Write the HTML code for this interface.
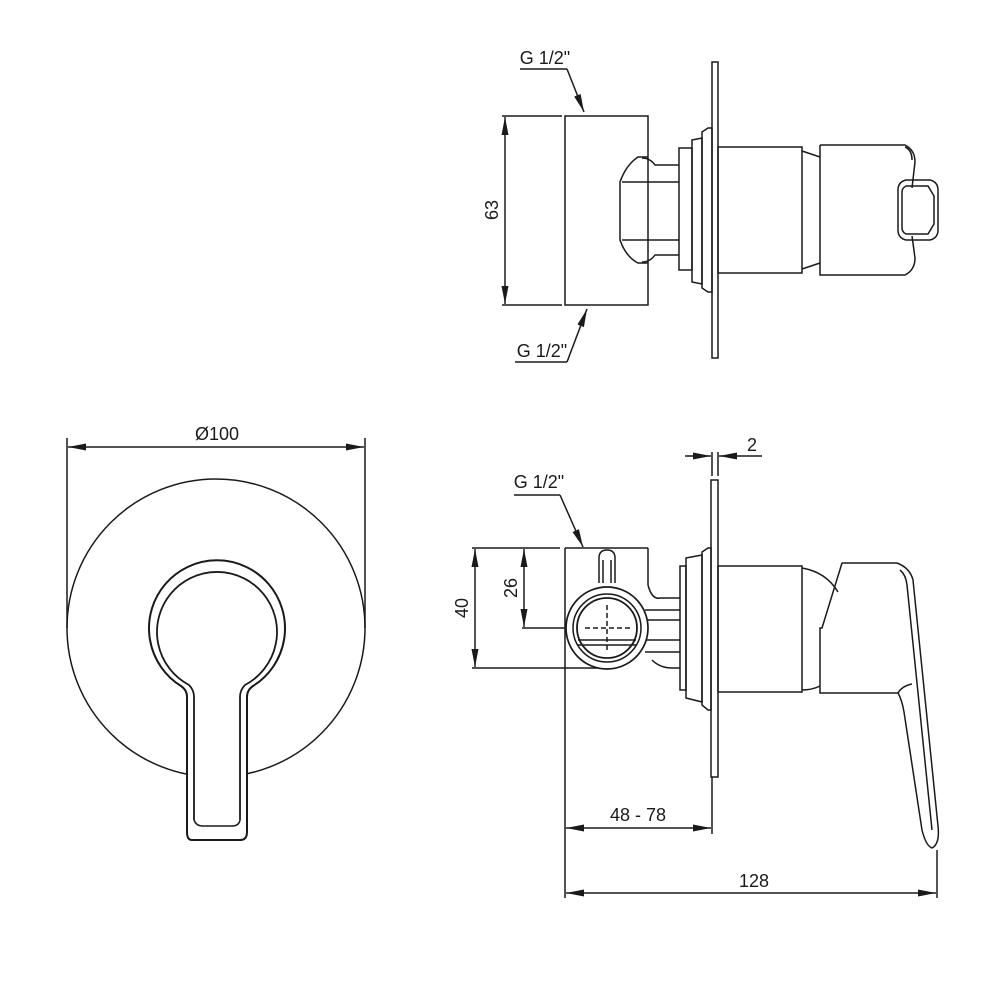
<!DOCTYPE html>
<html><head><meta charset="utf-8"><style>
html,body{margin:0;padding:0;background:#fff}
svg{display:block}
text{font-family:"Liberation Sans",sans-serif;font-size:18px;fill:#1a1a1a;font-weight:normal}
</style></head><body>
<svg width="1000" height="1000" viewBox="0 0 1000 1000" xmlns="http://www.w3.org/2000/svg">
<defs>
<marker id="a" viewBox="0 0 18 7" refX="18" refY="3.5" markerWidth="18" markerHeight="7" markerUnits="userSpaceOnUse" orient="auto"><path d="M0,0 L18,3.5 L0,7 Z" fill="#1a1a1a"/></marker>
</defs>
<g fill="none" stroke="#1a1a1a" stroke-width="1.5">
<!-- LEFT VIEW -->
<line x1="67" y1="438" x2="67" y2="628"/>
<line x1="365" y1="438" x2="365" y2="628"/>
<line x1="216" y1="447" x2="68" y2="447" marker-end="url(#a)"/>
<line x1="216" y1="447" x2="364" y2="447" marker-end="url(#a)"/>
<circle cx="216" cy="628" r="149"/>
<path d="M192,840 Q187,840 187,832 L187,697 Q187,690 181,686 A68,68 0 1 1 253,686 Q247,690 247,697 L247,832 Q247,840 240,840 Z" fill="#fff" stroke-width="2"/>
<path d="M194,820 L194,697 Q194,690 189,685 A60,60 0 1 1 245,685 Q240,690 240,697 L240,820" stroke-width="1.8"/>
<path d="M194,820 Q196,826 203,826 L232,826 Q239,826 240,820"/>

<!-- TOP RIGHT VIEW -->
<line x1="520" y1="69" x2="567" y2="69"/>
<line x1="567" y1="69" x2="584" y2="112" marker-end="url(#a)"/>
<line x1="515" y1="362" x2="567" y2="362"/>
<line x1="567" y1="362" x2="587" y2="309" marker-end="url(#a)"/>
<line x1="502" y1="116" x2="562" y2="116"/>
<line x1="502" y1="305" x2="562" y2="305"/>
<line x1="505" y1="210" x2="505" y2="117" marker-end="url(#a)"/>
<line x1="505" y1="210" x2="505" y2="304" marker-end="url(#a)"/>
<rect x="565" y="116" width="83" height="189"/>
<rect x="712" y="62" width="6" height="296"/>
<path d="M648,157 L638,157 Q626,165 620,182 L620,240 Q626,257 638,263 L648,263"/>
<path d="M642,158 Q650,158 655,165 L679,165 M642,262 Q650,262 655,255 L679,255"/>
<line x1="622" y1="182" x2="679" y2="182"/><line x1="622" y1="240" x2="679" y2="240"/>
<rect x="679" y="148" width="13" height="122"/>
<path d="M692,140 L702,138 L702,284 L692,282 Z"/>
<path d="M702,132 L708,128 L712,128 L712,292 L708,292 L702,288 Z"/>
<rect x="718" y="147" width="84" height="126"/>
<path d="M802,151 L820,157 M802,269 L820,263"/>
<path d="M820,145 L905,145 Q915,150 915,162 L912,188 M820,145 L820,275 L905,275 Q915,270 915,258 L912,236"/>
<path d="M905,147 Q912,150 912,160"/>
<path d="M906,180 L930,180 Q938,182 938,190 L938,230 Q938,238 930,240 L906,240 Q898,238 898,230 L898,190 Q898,182 906,180 Z"/>
<path d="M906,186 L928,186 L934,196 L934,224 L928,234 L906,234 Q902,232 902,228 L902,192 Q902,188 906,186 Z"/>

<!-- BOTTOM RIGHT VIEW -->
<line x1="685" y1="456" x2="711" y2="456" marker-end="url(#a)"/>
<line x1="762" y1="456" x2="719" y2="456" marker-end="url(#a)"/>
<line x1="712" y1="452" x2="712" y2="476"/>
<line x1="718" y1="452" x2="718" y2="476"/>
<rect x="711" y="480" width="7" height="297"/>
<line x1="514" y1="495" x2="560" y2="495"/>
<line x1="560" y1="495" x2="583" y2="547" marker-end="url(#a)"/>
<line x1="472" y1="548" x2="560" y2="548"/>
<line x1="565" y1="548" x2="648" y2="548"/>
<line x1="648" y1="548" x2="648" y2="585"/>
<line x1="472" y1="668" x2="610" y2="668"/>
<line x1="522" y1="628" x2="565" y2="628"/>
<line x1="565" y1="548" x2="565" y2="898"/>
<line x1="475" y1="600" x2="475" y2="549" marker-end="url(#a)"/>
<line x1="475" y1="600" x2="475" y2="667" marker-end="url(#a)"/>
<line x1="524" y1="590" x2="524" y2="549" marker-end="url(#a)"/>
<line x1="524" y1="590" x2="524" y2="627" marker-end="url(#a)"/>
<path d="M648,585 Q652,600 660,598 L680,598 M652,660 Q660,668 672,668 L680,668"/>
<path d="M645,610 L680,610 M645,620 L680,620 M645,640 L680,640 M645,652 L680,652"/>
<circle cx="607" cy="628" r="41" fill="#fff" stroke-width="1.7"/>
<circle cx="607" cy="628" r="34"/>
<circle cx="607" cy="628" r="30" stroke-width="1.8"/>
<path d="M599,583 L599,558 Q599,550 607,550 Q615,550 615,558 L615,583" fill="#fff"/>
<path d="M603,583 L603,560 M611,583 L611,560"/>
<path d="M585,628 L630,628 M607,605 L607,652" stroke-dasharray="5,3"/>
<path d="M578,640 L636,640 M578,645 L636,645"/>
<rect x="680" y="566" width="6" height="124"/>
<path d="M686,558 L702,555 L702,702 L686,698 Z"/>
<path d="M702,552 L708,548 L711,548 L711,710 L708,710 L702,705 Z"/>
<rect x="718" y="566" width="84" height="126"/>
<path d="M802,568 Q826,572 838,592"/>
<path d="M802,690 Q812,690 820,686"/>
<path d="M842,563 L897,563 M842,563 L822,628 L820,628 L820,693 L898,693"/>
<path d="M897,563 Q910,568 913,580 L938,826 Q940,844 932,848 Q926,846 922,830 L904,712 Q902,700 898,693"/>
<path d="M900,570 Q906,575 907,585 L932,830"/>
<path d="M898,693 Q902,686 912,684"/>
<line x1="712" y1="777" x2="712" y2="834"/>
<line x1="937" y1="850" x2="937" y2="898"/>
<line x1="640" y1="828" x2="566" y2="828" marker-end="url(#a)"/>
<line x1="640" y1="828" x2="711" y2="828" marker-end="url(#a)"/>
<line x1="750" y1="893" x2="566" y2="893" marker-end="url(#a)"/>
<line x1="750" y1="893" x2="936" y2="893" marker-end="url(#a)"/>
</g>
<g>
<text x="217" y="440" text-anchor="middle">Ø100</text>
<text x="545" y="64" text-anchor="middle">G 1/2"</text>
<text x="542" y="357" text-anchor="middle">G 1/2"</text>
<text x="498" y="210" text-anchor="middle" transform="rotate(-90 498 210)">63</text>
<text x="752" y="451" text-anchor="middle">2</text>
<text x="539" y="488" text-anchor="middle">G 1/2"</text>
<text x="468" y="608" text-anchor="middle" transform="rotate(-90 468 608)">40</text>
<text x="517" y="588" text-anchor="middle" transform="rotate(-90 517 588)">26</text>
<text x="638" y="821" text-anchor="middle">48 - 78</text>
<text x="754" y="887" text-anchor="middle">128</text>
</g>
</svg>
</body></html>
